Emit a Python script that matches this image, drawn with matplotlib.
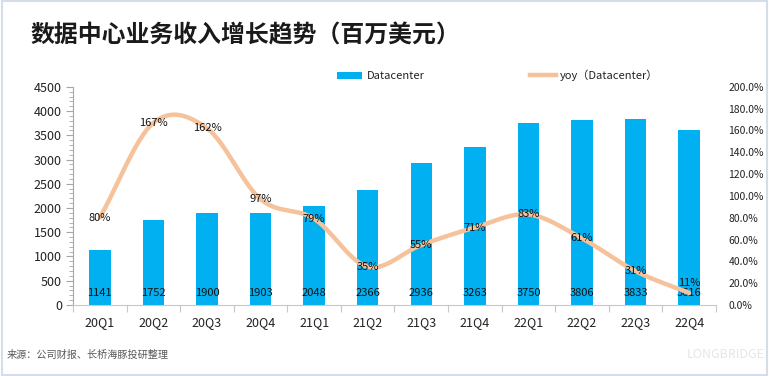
import numpy as np
import matplotlib
matplotlib.use("Agg")
import matplotlib.pyplot as plt
from matplotlib.patches import Rectangle, Patch
from matplotlib.lines import Line2D
from matplotlib.ticker import MultipleLocator, FixedLocator, FuncFormatter

plt.rcParams['font.family'] = ['Noto Sans CJK SC', 'DejaVu Sans']

quarters = ['20Q1', '20Q2', '20Q3', '20Q4', '21Q1', '21Q2', '21Q3', '21Q4',
            '22Q1', '22Q2', '22Q3', '22Q4']
revenue = [1141, 1752, 1900, 1903, 2048, 2366, 2936, 3263, 3750, 3806, 3833, 3616]
yoy = [80, 167, 162, 97, 79, 35, 55, 71, 83, 61, 31, 11]

title = '数据中心业务收入增长趋势（百万美元）'
source = '来源：公司财报、长桥海豚投研整理'

BLUE = '#00B0F0'
PEACH = '#F6C29C'

fig = plt.figure(figsize=(7.69, 3.76), dpi=100)
fig.patch.set_facecolor('white')
fig.add_artist(Rectangle((0.002, 0.003), 0.996, 0.994, transform=fig.transFigure,
                         fill=False, edgecolor='#D5DEE8', linewidth=1.5))

ax = fig.add_axes([0.095, 0.189, 0.836, 0.580])
x = np.arange(len(quarters))
ax.bar(x, revenue, width=0.4, color=BLUE, zorder=2)
ax.set_xlim(-0.5, len(quarters) - 0.5)
ax.set_ylim(0, 4500)

for xi, v in zip(x, revenue):
    ax.text(xi, 250, str(v), ha='center', va='center', fontsize=8, color='#111111', zorder=5)

ax.yaxis.set_major_locator(MultipleLocator(500))
ax.yaxis.set_minor_locator(MultipleLocator(100))
ax.tick_params(axis='y', which='major', length=5, color='#A6A6A6', labelsize=9, pad=3, labelcolor='#222222')
ax.tick_params(axis='y', which='minor', length=3, color='#A6A6A6')

ax.xaxis.set_major_locator(FixedLocator(np.arange(-0.5, len(quarters), 1.0)))
ax.xaxis.set_minor_locator(FixedLocator(x))
ax.xaxis.set_major_formatter(FuncFormatter(lambda v, p: ''))
ax.set_xticks(x, minor=True)
ax.set_xticklabels(quarters, minor=True)
ax.tick_params(axis='x', which='major', length=5, color='#C8C8C8')
ax.tick_params(axis='x', which='minor', length=0, labelsize=9, pad=8, labelcolor='#222222')

for s in ['top', 'right']:
    ax.spines[s].set_visible(False)
ax.spines['left'].set_color('#A6A6A6')
ax.spines['bottom'].set_color('#C8C8C8')

ax2 = ax.twinx()
ax2.set_ylim(0, 200)
ax2.yaxis.set_major_locator(MultipleLocator(20))
ax2.yaxis.set_major_formatter(FuncFormatter(lambda v, p: f'{v:.1f}%'))
ax2.tick_params(axis='y', length=0, labelsize=7.5, pad=9, labelcolor='#222222')
for s in ['top', 'right', 'left', 'bottom']:
    ax2.spines[s].set_visible(False)

# Smooth curve (Catmull-Rom through the data points)
def catmull_rom(xs, ys, n=30):
    px = np.concatenate([[2 * xs[0] - xs[1]], xs, [2 * xs[-1] - xs[-2]]])
    py = np.concatenate([[2 * ys[0] - ys[1]], ys, [2 * ys[-1] - ys[-2]]])
    outx, outy = [], []
    t = np.linspace(0, 1, n)
    for i in range(1, len(px) - 2):
        p0, p1, p2, p3 = py[i - 1], py[i], py[i + 1], py[i + 2]
        q0, q1, q2, q3 = px[i - 1], px[i], px[i + 1], px[i + 2]
        fy = 0.5 * ((2 * p1) + (-p0 + p2) * t + (2 * p0 - 5 * p1 + 4 * p2 - p3) * t ** 2 + (-p0 + 3 * p1 - 3 * p2 + p3) * t ** 3)
        fx = 0.5 * ((2 * q1) + (-q0 + q2) * t + (2 * q0 - 5 * q1 + 4 * q2 - q3) * t ** 2 + (-q0 + 3 * q1 - 3 * q2 + q3) * t ** 3)
        outx.extend(fx)
        outy.extend(fy)
    return np.array(outx), np.array(outy)

sx, sy = catmull_rom(x.astype(float), np.array(yoy, dtype=float))
ax2.plot(sx, sy, color=PEACH, linewidth=3.2, solid_capstyle='round', zorder=3)

for i, (xi, v) in enumerate(zip(x, yoy)):
    off = 9 if i == len(yoy) - 1 else 0
    ax2.text(xi, v + off, f'{v}%', ha='center', va='center', fontsize=8, color='#111111', zorder=5)

handles = [Patch(facecolor=BLUE, edgecolor='none'),
           Line2D([0], [0], color=PEACH, linewidth=3.2)]
fig.legend(handles, ['Datacenter', 'yoy（Datacenter）'], loc='center left',
           bbox_to_anchor=(0.425, 0.80), ncol=2, frameon=False, fontsize=8,
           handlelength=2.3, handleheight=0.6, columnspacing=9.5, handletextpad=0.4,
           labelcolor='#222222')

fig.text(0.039, 0.907, title, fontsize=17.2, fontweight='bold', color='#1A1A1A',
         ha='left', va='center')
fig.text(0.009, 0.056, source, fontsize=7.3, color='#595959', ha='left', va='center')
fig.text(0.995, 0.056, 'LONGBRIDGE', fontsize=9, color='#E6E6E6', ha='right', va='center')

fig.savefig('out.png', dpi=100)
